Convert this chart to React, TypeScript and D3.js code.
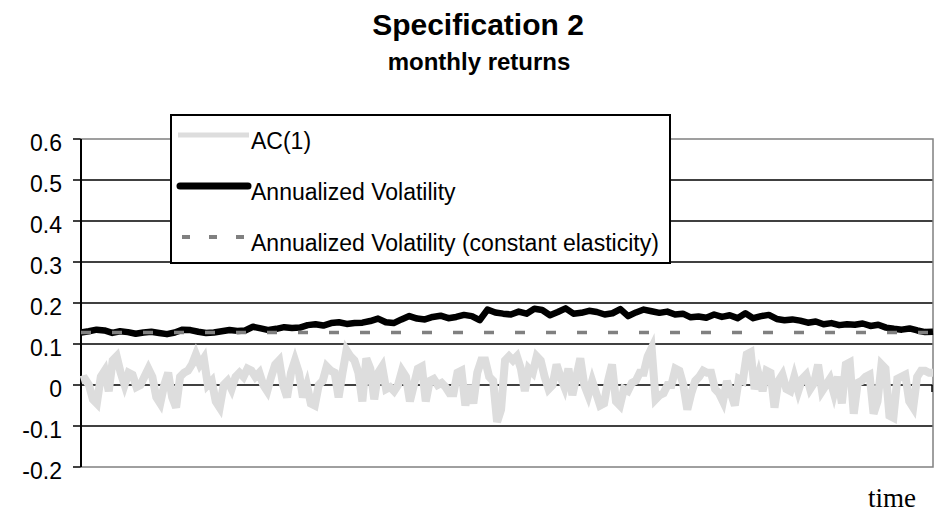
import React from "react";
import * as d3 from "d3";

const title = "Specification 2";
const subtitle = "monthly returns";
const xLabel = "time";
const yTicks = [0.6, 0.5, 0.4, 0.3, 0.2, 0.1, 0, -0.1, -0.2];
const yTickLabels = ["0.6", "0.5", "0.4", "0.3", "0.2", "0.1", "0", "-0.1", "-0.2"];
const seriesNames = ["AC(1)", "Annualized Volatility", "Annualized Volatility (constant elasticity)"];

const ac1 = [
  0.012, 0.015, 0.0, -0.035, -0.045, 0.02, 0.035, -0.015, 0.06, 0.07, 0.03, 0.0, 0.03, 0.025, -0.005, 0.0,
  0.02, 0.04, 0.02, -0.03, -0.045, 0.0, 0.03, -0.03, -0.055, 0.02, 0.03, 0.035, 0.05, 0.075, 0.05, 0.065,
  0.0, 0.01, -0.04, -0.055, 0.0, 0.01, -0.01, 0.02, 0.03, 0.02, 0.04, 0.035, 0.02, 0.03, 0.0, -0.015,
  0.02, 0.05, 0.06, 0.0, -0.03, 0.03, 0.06,
  0.03, -0.03, 0.0, -0.045, -0.05, 0.0, 0.01, 0.045, 0.035, 0.03, -0.03, 0.03, 0.085, 0.07, 0.06, 0.03,
  -0.04, 0.065, 0.04, -0.035, 0.03, 0.045, -0.01, -0.005, -0.015, 0.0, 0.035, 0.02, -0.04, 0.0, 0.04, 0.045,
  -0.04, 0.01, 0.015, 0.0, 0.005, -0.005, -0.02, -0.02, 0.03, 0.035, -0.05, 0.0, -0.045, 0.03, 0.06, 0.06,
  0.02, 0.01, -0.09, -0.06, 0.06, 0.07,
  0.06, 0.07, 0.04, -0.015, 0.04, 0.03, 0.07, 0.06, 0.02, -0.01, 0.0, 0.05, 0.02, -0.005, 0.04, -0.025,
  0.02, 0.065, 0.0, -0.025, 0.01, -0.02, -0.05, -0.045, 0.01, 0.05, -0.04, -0.05, -0.01, -0.015, 0.005, 0.01,
  0.03, 0.03, 0.07, 0.09, -0.035, -0.025, -0.02, 0.0, 0.0, 0.04, 0.035, 0.0, -0.06, -0.02, 0.01, 0.02,
  0.035, 0.03, 0.03, -0.01,
  -0.02, -0.04, 0.01, -0.02, -0.05, 0.015, 0.01, 0.075, 0.08, -0.01, 0.025, -0.015, 0.035, 0.03, -0.055, 0.01,
  0.025, -0.01, -0.015, 0.02, -0.015, 0.015, 0.025, -0.01, 0.005, 0.05, -0.015, 0.0, 0.015, -0.02, 0.02, -0.045,
  0.05, 0.055, -0.07, 0.005, 0.01, 0.02, 0.025, -0.07, -0.04, 0.05, 0.04, -0.075, -0.08, 0.015, 0.02, 0.025,
  -0.04, -0.055, 0.02, 0.035, 0.035, 0.03, 0.03,
];

const annVol = [
  0.128, 0.131, 0.135, 0.133, 0.127, 0.131, 0.129, 0.125, 0.128, 0.13, 0.127, 0.124, 0.128, 0.135, 0.134, 0.13,
  0.127, 0.128, 0.131, 0.134, 0.132, 0.133, 0.142, 0.138, 0.134, 0.137, 0.141, 0.139,
  0.14, 0.146, 0.148, 0.145, 0.151, 0.153, 0.149, 0.151, 0.152, 0.156, 0.162, 0.153, 0.151, 0.16, 0.168, 0.162,
  0.16, 0.166, 0.169, 0.163, 0.166, 0.171, 0.168, 0.158, 0.184, 0.177, 0.174,
  0.172, 0.179, 0.174, 0.186, 0.183, 0.17, 0.178, 0.187, 0.174, 0.176, 0.181, 0.178, 0.172, 0.175, 0.185, 0.168,
  0.177, 0.184, 0.18, 0.176, 0.179, 0.172, 0.174, 0.165, 0.167, 0.164, 0.172,
  0.166, 0.17, 0.163, 0.175, 0.163, 0.168, 0.171, 0.161, 0.158, 0.16, 0.157, 0.152, 0.155, 0.148, 0.151, 0.146,
  0.148, 0.147, 0.15, 0.144, 0.147, 0.14, 0.137, 0.135, 0.138, 0.133, 0.129, 0.13,
];

const constElasticity = [0.128, 0.128];

const W = 942;
const H = 515;
const PL = 81, PR = 933, PT = 139, PB = 467;

export default function App() {
  const x = d3.scaleLinear().domain([0, 1]).range([PL, PR]);
  const y = d3.scaleLinear().domain([-0.2, 0.6]).range([PB, PT]);
  const mk = (arr: number[]) =>
    d3.line<number>().x((_, i) => x(i / (arr.length - 1))).y((d) => y(d))(arr) || "";

  const lx0 = 171, ly0 = 115, lx1 = 670, ly1 = 263;
  const rows = [135, 186, 237];
  const font = "'Liberation Sans', Arial, sans-serif";

  return (
    <svg width={W} height={H} style={{ position: "absolute", left: 0, top: 0, background: "#fff" }}>
      <rect x={0} y={0} width={W} height={H} fill="#fff" />
      <text x={478} y={35} textAnchor="middle" fontFamily={font} fontWeight="bold" fontSize={30}>{title}</text>
      <text x={479} y={70} textAnchor="middle" fontFamily={font} fontWeight="bold" fontSize={24}>{subtitle}</text>

      {yTicks.map((t, i) => (
        <g key={i}>
          {t !== 0.6 && t !== -0.2 && (
            <line x1={PL} x2={PR} y1={y(t)} y2={y(t)} stroke="#000" strokeWidth={1.5} />
          )}
          <line x1={73} x2={PL} y1={y(t)} y2={y(t)} stroke="#000" strokeWidth={1.5} />
          <text x={62} y={y(t) + 12} textAnchor="end" fontFamily={font} fontSize={23}>{yTickLabels[i]}</text>
        </g>
      ))}
      <rect x={PL} y={PT} width={PR - PL} height={PB - PT} fill="none" stroke="#808080" strokeWidth={1.5} />
      <line x1={PL} x2={PL} y1={PT} y2={PB} stroke="#000" strokeWidth={2} />
      <line x1={PR - 1} x2={PR - 1} y1={y(0)} y2={y(0) + 7} stroke="#000" strokeWidth={1.5} />

      <path d={mk(ac1)} fill="none" stroke="#dddddd" strokeWidth={8} />
      <path d={mk(annVol)} fill="none" stroke="#000" strokeWidth={6.5} strokeLinejoin="round" />
      <path d={mk(constElasticity)} fill="none" stroke="#808080" strokeWidth={3.5} strokeDasharray="10 21" />

      <rect x={lx0} y={ly0} width={lx1 - lx0} height={ly1 - ly0} fill="#fff" stroke="#000" strokeWidth={2} />
      <line x1={178} x2={249} y1={rows[0]} y2={rows[0]} stroke="#dddddd" strokeWidth={5} />
      <line x1={180} x2={248} y1={rows[1]} y2={rows[1]} stroke="#000" strokeWidth={7} strokeLinecap="round" />
      <line x1={182} x2={249} y1={rows[2]} y2={rows[2]} stroke="#808080" strokeWidth={4} strokeDasharray="8 19" />
      {seriesNames.map((n, i) => (
        <text key={n} x={251} y={rows[i] + 14} fontFamily={font} fontSize={23}>{n}</text>
      ))}

      <text x={868} y={507} fontFamily="'Liberation Serif', 'Times New Roman', serif" fontSize={27}>{xLabel}</text>
    </svg>
  );
}
